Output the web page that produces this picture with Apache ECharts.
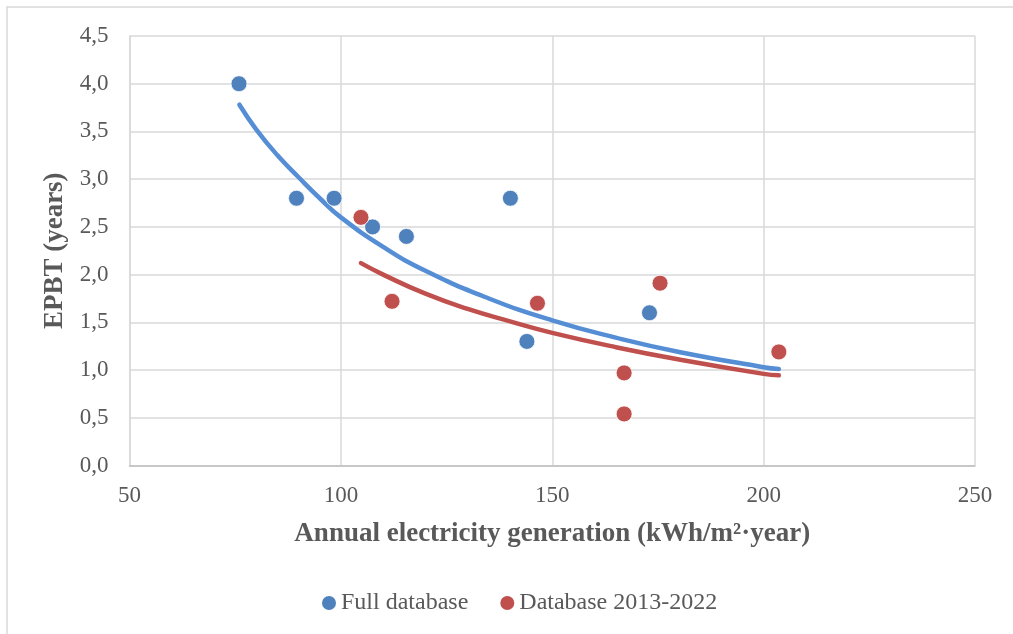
<!DOCTYPE html>
<html>
<head>
<meta charset="utf-8">
<script src="https://cdn.jsdelivr.net/npm/echarts@6/dist/echarts.min.js"></script>
<style>
  html, body { margin: 0; padding: 0; background: #fff; }
  #main { width: 1013px; height: 634px; }
</style>
</head>
<body>
<div id="main"></div>
<script>
// 散点数据 (x: kWh/m2·year, y: EPBT years)
var fullDb = [
  [75.9, 4.0], [89.5, 2.8], [98.4, 2.8], [107.5, 2.5], [115.5, 2.4],
  [140.1, 2.8], [144.0, 1.3], [173.0, 1.6]
];
var recentDb = [
  [104.75, 2.6], [112.1, 1.72], [146.5, 1.7], [175.5, 1.91],
  [167.0, 0.97], [167.0, 0.54], [203.6, 1.19]
];
// 趋势线
var fullTrend = [
  [76, 3.78], [80, 3.52], [85, 3.25], [90, 3.02], [95, 2.8], [100, 2.6],
  [110, 2.29], [120, 2.04], [135, 1.75], [150, 1.52], [165, 1.34],
  [180, 1.19], [200, 1.03], [203.6, 1.01]
];
var recentTrend = [
  [104.75, 2.12], [110, 2.0], [120, 1.8], [130, 1.64], [140, 1.51],
  [150, 1.39], [165, 1.24], [180, 1.11], [200, 0.96], [203.6, 0.945]
];

var chart = echarts.init(document.getElementById("main"), null, { renderer: "canvas" });

var font = "'Liberation Serif', 'Times New Roman', serif";

var option = {
  backgroundColor: "#fff",
  animation: false,
  graphic: [
    {
      type: "rect",
      shape: { x: 7, y: 7, width: 1030, height: 660 },
      style: { fill: "none", stroke: "#d9d9d9", lineWidth: 1.5 },
      silent: true
    }
  ],
  grid: {
    left: 129.5,
    right: 38,
    top: 36,
    bottom: 168.5
  },
  legend: {
    bottom: 14,
    left: 315,
    itemGap: 30,
    itemWidth: 16,
    itemHeight: 16,
    icon: "circle",
    data: ["Full database", "Database 2013-2022"],
    textStyle: { fontFamily: font, fontSize: 24, color: "#595959", padding: [0, 0, 0, -1] }
  },
  xAxis: {
    type: "value",
    min: 50,
    max: 250,
    interval: 50,
    name: "Annual electricity generation (kWh/m²·year)",
    nameLocation: "middle",
    nameGap: 55,
    nameTextStyle: { fontFamily: font, fontSize: 27, fontWeight: "bold", color: "#595959" },
    axisLine: { show: true, lineStyle: { color: "#bfbfbf", width: 1.5 } },
    axisTick: { show: false },
    axisLabel: { fontFamily: font, fontSize: 23, color: "#595959", margin: 19 },
    splitLine: { show: true, lineStyle: { color: "#d9d9d9", width: 1.5 } }
  },
  yAxis: {
    type: "value",
    min: 0,
    max: 4.5,
    interval: 0.5,
    name: "EPBT (years)",
    nameLocation: "middle",
    nameGap: 59,
    nameRotate: 90,
    nameTextStyle: { fontFamily: font, fontSize: 27, fontWeight: "bold", color: "#595959" },
    axisLine: { show: true, lineStyle: { color: "#d9d9d9", width: 1.5 } },
    axisTick: { show: false },
    axisLabel: {
      fontFamily: font, fontSize: 23, color: "#595959", margin: 21,
      formatter: function (v) { return v.toFixed(1).replace(".", ","); }
    },
    splitLine: { show: true, lineStyle: { color: "#d9d9d9", width: 1.5 } }
  },
  series: [
    {
      name: "Full trend",
      type: "line",
      data: fullTrend,
      smooth: true,
      showSymbol: false,
      lineStyle: { color: "#558ed5", width: 4.5, cap: "round" },
      z: 2
    },
    {
      name: "Recent trend",
      type: "line",
      data: recentTrend,
      smooth: true,
      showSymbol: false,
      lineStyle: { color: "#c0504d", width: 4.5, cap: "round" },
      z: 2
    },
    {
      name: "Full database",
      type: "scatter",
      data: fullDb,
      symbolSize: 16,
      itemStyle: { color: "#4f81bd", borderColor: "#fff", borderWidth: 0.8, opacity: 1 },
      z: 3
    },
    {
      name: "Database 2013-2022",
      type: "scatter",
      data: recentDb,
      symbolSize: 16,
      itemStyle: { color: "#c0504d", borderColor: "#fff", borderWidth: 0.8, opacity: 1 },
      z: 3
    }
  ]
};

chart.setOption(option);
</script>
</body>
</html>
